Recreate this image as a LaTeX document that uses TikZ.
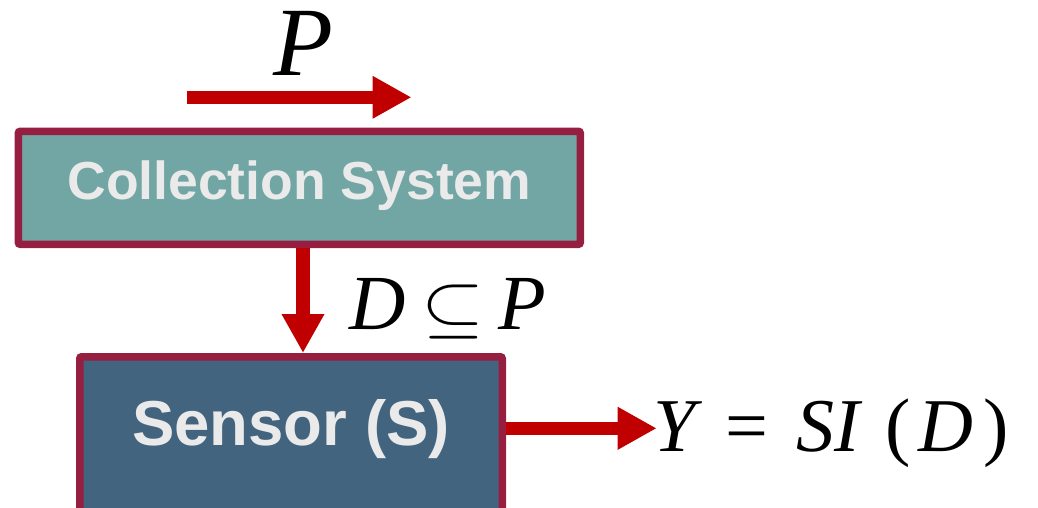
\documentclass[tikz,border=0pt]{standalone}
\usepackage{fontspec}
\usepackage{graphicx}
\setmainfont{Liberation Serif}
\newfontfamily\boxfont{Liberation Sans}
\usetikzlibrary{arrows.meta}
\definecolor{bordercol}{RGB}{150,30,65}
\definecolor{tealfill}{RGB}{113,166,165}
\definecolor{bluefill}{RGB}{66,100,126}
\definecolor{boxtextcol}{RGB}{234,234,234}
\definecolor{arrowred}{RGB}{192,0,0}
\tikzset{
  blockbox/.style={draw=bordercol, line width=7.5pt, rounded corners=2pt, inner sep=0pt,
    text=boxtextcol, font=\boxfont\bfseries},
  redarrow/.style={draw=arrowred, line width=13.3pt, -{Triangle[length=39pt,width=40pt]}},
  mathlabel/.style={inner sep=0pt, anchor=base west}
}
\begin{document}
\begin{tikzpicture}[x=1pt,y=-1pt]
\useasboundingbox (0,0) rectangle (1038,507);
% boxes
\node[blockbox, fill=tealfill, minimum width=562pt, minimum height=113pt,
      text height=39pt, text depth=15.6pt, font=\boxfont\bfseries\fontsize{53.5}{58}\selectfont]
  (cs) at (299.3,187.8) {Collection System};
\node[blockbox, fill=bluefill, minimum width=422.5pt, minimum height=169.5pt,
      text height=46pt, text depth=38pt, font=\boxfont\bfseries\fontsize{63.5}{68}\selectfont]
  (s) at (291,441.5) {Sensor (S)};
% free arrow ends
\coordinate (pstart) at (187,97.3);
\coordinate (pend) at (411.5,97.3);
\coordinate (dx) at (303,0);
\coordinate (yend) at (656.7,428.3);
% arrows
\draw[redarrow] (pstart) -- (pend);
\draw[redarrow] (cs.south -| dx) -- (s.north -| dx);
\draw[redarrow] (s.east |- yend) -- (yend);
% labels
\node[mathlabel, font=\fontsize{98}{100}\selectfont] (plabel) at (273,75) {\itshape P};
\node[mathlabel, font=\fontsize{78}{82}\selectfont] (dlabel) at (349,329)
  {\itshape D\hspace{16pt}\scalebox{8.1}[7]{\fontsize{10}{12}\selectfont$\subseteq$}\hspace{14pt}P};
\node[mathlabel, font=\fontsize{76}{80}\selectfont] (ylabel) at (653,451)
  {\itshape Y\upshape\hspace{30pt}=\hspace{28pt}\itshape SI\upshape\hspace{26pt}(\hspace{8pt}\itshape D\upshape\hspace{10pt})};
\end{tikzpicture}
\end{document}
